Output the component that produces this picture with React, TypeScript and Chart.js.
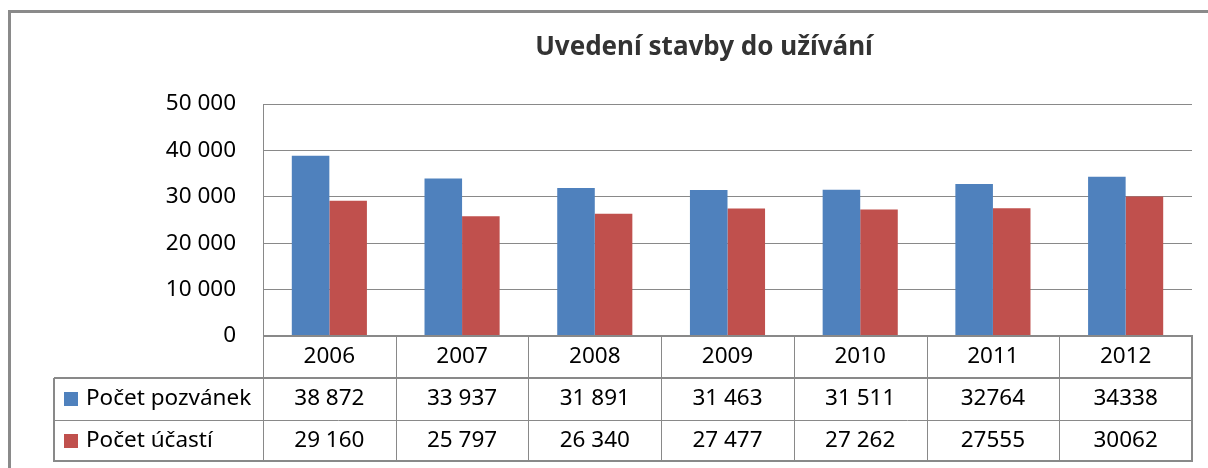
import React, { useEffect, useRef } from "react";
import { Chart, registerables } from "chart.js";

Chart.register(...registerables);

const titleText = "Uvedení stavby do užívání";
const years = ["2006", "2007", "2008", "2009", "2010", "2011", "2012"];
const seriesNames = ["Počet pozvánek", "Počet účastí"];
const pozvanky = [38872, 33937, 31891, 31463, 31511, 32764, 34338];
const ucasti = [29160, 25797, 26340, 27477, 27262, 27555, 30062];
const pozvankyText = ["38 872", "33 937", "31 891", "31 463", "31 511", "32764", "34338"];
const ucastiText = ["29 160", "25 797", "26 340", "27 477", "27 262", "27555", "30062"];
const yMin = 0;
const yMax = 50000;
const yStep = 10000;

const BLUE = "#4F81BD";
const RED = "#C0504D";
const GRID = "#898989";
const FONT = '"Noto Sans", "DejaVu Sans", sans-serif';

function fmt(v: number): string {
  const s = String(Math.round(v));
  return s.replace(/\B(?=(\d{3})+(?!\d))/g, " ");
}

const framePlugin = {
  id: "frame",
  beforeDraw(chart: any) {
    const { ctx, width, height } = chart;
    ctx.save();
    ctx.fillStyle = "#ffffff";
    ctx.fillRect(0, 0, width, height);
    ctx.strokeStyle = "#8a8a8a";
    ctx.lineWidth = 3;
    ctx.beginPath();
    ctx.moveTo(9.5, height);
    ctx.lineTo(9.5, 11.5);
    ctx.lineTo(width, 11.5);
    ctx.stroke();
    ctx.restore();
  },
};

const titlePlugin = {
  id: "customTitle",
  afterDraw(chart: any) {
    const { ctx } = chart;
    ctx.save();
    ctx.fillStyle = "#333333";
    ctx.font = `bold 26px ${FONT}`;
    ctx.textAlign = "center";
    ctx.textBaseline = "middle";
    ctx.fillText(titleText, 704, 48);
    ctx.restore();
  },
};

const tablePlugin = {
  id: "dataTable",
  afterDraw(chart: any) {
    const { ctx, chartArea: ca } = chart;
    const x = chart.scales.x;
    const n = years.length;
    const colW = (ca.right - ca.left) / n;
    const tableLeft = 54;
    const y0 = ca.bottom;
    const y1 = y0 + 42;
    const y2 = y1 + 42;
    const y3 = y2 + 41;

    const line = (xa: number, ya: number, xb: number, yb: number, w: number) => {
      ctx.lineWidth = w;
      ctx.beginPath();
      ctx.moveTo(xa, ya);
      ctx.lineTo(xb, yb);
      ctx.stroke();
    };

    ctx.save();
    ctx.strokeStyle = GRID;
    line(ca.left, y0, ca.right + 1, y0, 2);
    line(tableLeft, y1, ca.right + 1, y1, 2);
    line(tableLeft, y2 + 0.5, ca.right, y2 + 0.5, 1);
    line(tableLeft - 1, y3, ca.right + 1, y3, 2);
    for (let i = 0; i <= n; i++) {
      const xi = Math.round(ca.left + i * colW);
      const w = i === n ? 2 : 1;
      line(w === 1 ? xi + 0.5 : xi, y0, w === 1 ? xi + 0.5 : xi, y3, w);
    }
    line(tableLeft, y1, tableLeft, y3 + 1, 2);

    ctx.fillStyle = "#000000";
    ctx.font = `22.5px ${FONT}`;
    ctx.textAlign = "center";
    ctx.textBaseline = "middle";
    for (let i = 0; i < n; i++) {
      const cx = x.getPixelForValue(i);
      ctx.fillText(years[i], cx, (y0 + y1) / 2);
      ctx.fillText(pozvankyText[i], cx, (y1 + y2) / 2);
      ctx.fillText(ucastiText[i], cx, (y2 + y3) / 2);
    }

    const colors = [BLUE, RED];
    const rowsC = [(y1 + y2) / 2, (y2 + y3) / 2];
    ctx.textAlign = "left";
    for (let r = 0; r < 2; r++) {
      ctx.fillStyle = colors[r];
      ctx.fillRect(64, Math.round(rowsC[r] - 7), 14, 14);
      ctx.fillStyle = "#000000";
      ctx.fillText(seriesNames[r], 86, rowsC[r]);
    }
    ctx.restore();
  },
};

export default function App() {
  const ref = useRef<HTMLCanvasElement | null>(null);

  useEffect(() => {
    if (!ref.current) return;
    const chart = new Chart(ref.current, {
      type: "bar",
      data: {
        labels: years,
        datasets: [
          {
            label: seriesNames[0],
            data: pozvanky,
            backgroundColor: BLUE,
            borderWidth: 0,
            categoryPercentage: 0.566,
            barPercentage: 1,
          },
          {
            label: seriesNames[1],
            data: ucasti,
            backgroundColor: RED,
            borderWidth: 0,
            categoryPercentage: 0.566,
            barPercentage: 1,
          },
        ],
      },
      options: {
        responsive: false,
        animation: false,
        devicePixelRatio: 1,
        layout: { padding: { top: 104, right: 16, bottom: 132, left: 0 } },
        plugins: {
          legend: { display: false },
          title: { display: false },
          tooltip: { enabled: false },
        },
        scales: {
          x: {
            display: false,
          },
          y: {
            min: yMin,
            max: yMax,
            afterFit(scale: any) {
              scale.width = 263;
            },
            ticks: {
              stepSize: yStep,
              padding: 27,
              color: "#000000",
              font: { family: FONT, size: 22.5 },
              callback: (v: any) => fmt(Number(v)),
            },
            grid: {
              color: GRID,
              lineWidth: 1,
              drawTicks: false,
            },
            border: { display: true, color: GRID, width: 1 },
          },
        },
      },
      plugins: [framePlugin, titlePlugin, tablePlugin],
    });
    return () => chart.destroy();
  }, []);

  return (
    <div style={{ position: "absolute", left: 0, top: 0, width: 1208, height: 468 }}>
      <canvas ref={ref} width={1208} height={468} style={{ width: 1208, height: 468, display: "block" }} />
    </div>
  );
}
